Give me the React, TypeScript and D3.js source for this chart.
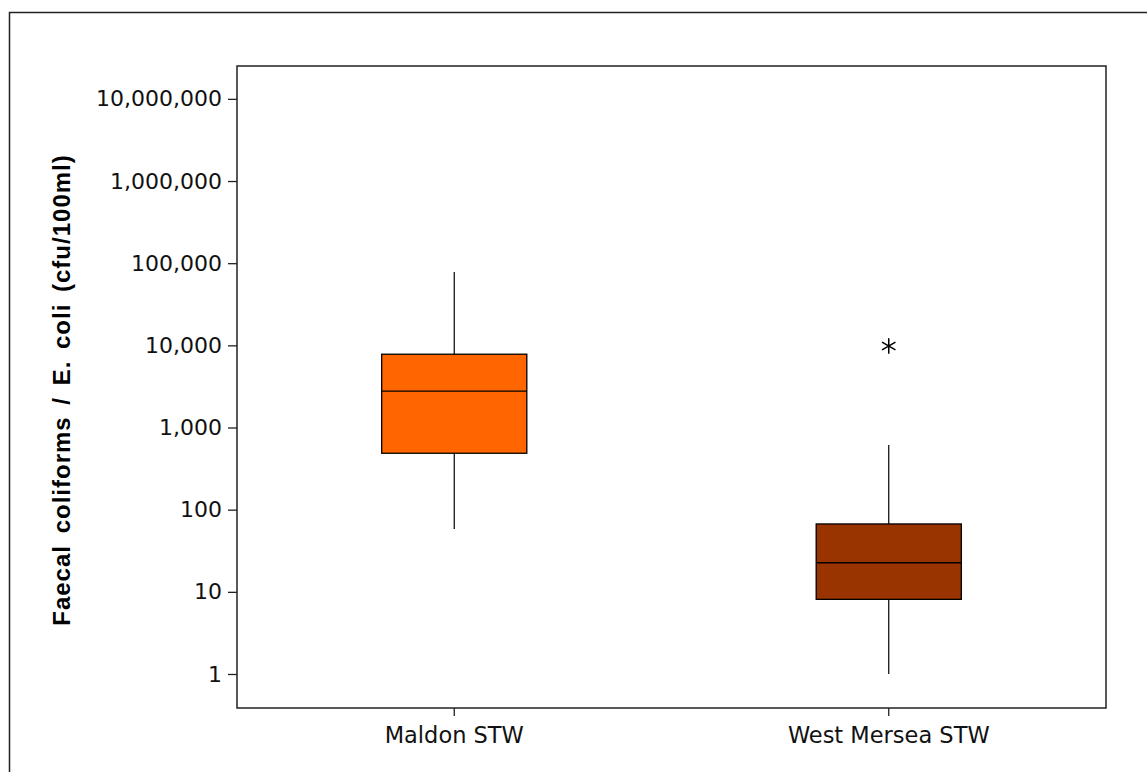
import * as d3 from 'd3';
import { useRef, useEffect } from 'react';

const groups = ['Maldon STW', 'West Mersea STW'];
const whiskerLow = [58, 1];
const q1 = [486, 8.1];
const median = [2770, 22.6];
const q3 = [7800, 67];
const whiskerHigh = [78000, 614];
const outliers = [[], [9800]];
const boxColors = ['#FF6600', '#993300'];
const yTicks = [1, 10, 100, 1000, 10000, 100000, 1000000, 10000000];

const App = () => {
  const svgRef = useRef(null);

  useEffect(() => {
    const svg = d3.select(svgRef.current);
    const width = 1147;
    const height = 772;
    const margin = { top: 66, right: 41, bottom: 64, left: 237 };
    const tickFont = '"DejaVu Sans", Tahoma, sans-serif';

    svg.selectAll('*').remove();

    // outer frame (runs off right and bottom)
    svg.append('rect')
      .attr('x', 9.5).attr('y', 12.5)
      .attr('width', width + 20).attr('height', height + 20)
      .attr('fill', 'none').attr('stroke', '#222').attr('stroke-width', 1.5);

    const x = d3.scaleBand()
      .domain(groups)
      .range([margin.left, width - margin.right])
      .padding(0);

    const y = d3.scaleLog()
      .domain([Math.pow(10, -0.414), Math.pow(10, 7.4)])
      .range([height - margin.bottom, margin.top]);

    const boxW = x.bandwidth() * 0.334;

    const g = svg.append('g');
    groups.forEach((name, i) => {
      const cx = x(name) + x.bandwidth() / 2;
      g.append('line')
        .attr('x1', cx).attr('x2', cx)
        .attr('y1', y(whiskerLow[i])).attr('y2', y(whiskerHigh[i]))
        .attr('stroke', '#000').attr('stroke-width', 1.2);
      g.append('rect')
        .attr('x', cx - boxW / 2).attr('y', y(q3[i]))
        .attr('width', boxW).attr('height', y(q1[i]) - y(q3[i]))
        .attr('fill', boxColors[i]).attr('stroke', '#000').attr('stroke-width', 1.3);
      g.append('line')
        .attr('x1', cx - boxW / 2).attr('x2', cx + boxW / 2)
        .attr('y1', y(median[i])).attr('y2', y(median[i]))
        .attr('stroke', '#000').attr('stroke-width', 1.3);
      outliers[i].forEach(v => {
        g.append('path')
          .attr('transform', `translate(${cx},${y(v)})`)
          .attr('d', d3.symbol(d3.symbolAsterisk, 170)())
          .attr('fill', 'none').attr('stroke', '#000').attr('stroke-width', 1.5);
      });
    });

    // plot border
    svg.append('rect')
      .attr('x', margin.left).attr('y', margin.top)
      .attr('width', width - margin.left - margin.right)
      .attr('height', height - margin.top - margin.bottom)
      .attr('fill', 'none').attr('stroke', '#222').attr('stroke-width', 1.5);

    const yAxisG = svg.append('g')
      .attr('transform', `translate(${margin.left},0)`)
      .call(d3.axisLeft(y).tickValues(yTicks).tickFormat(d3.format(',')).tickSize(9).tickPadding(6));
    yAxisG.select('.domain').remove();
    yAxisG.selectAll('line').attr('stroke', '#222').attr('stroke-width', 1.3);
    yAxisG.selectAll('text')
      .style('font-family', tickFont).style('font-size', '22px').attr('fill', '#111');

    const xAxisG = svg.append('g')
      .attr('transform', `translate(0,${height - margin.bottom})`)
      .call(d3.axisBottom(x).tickSize(8).tickPadding(11));
    xAxisG.select('.domain').remove();
    xAxisG.selectAll('line').attr('stroke', '#222').attr('stroke-width', 1.3);
    xAxisG.selectAll('text')
      .style('font-family', tickFont).style('font-size', '22.5px').attr('fill', '#111');

    svg.append('text')
      .attr('transform', `translate(70,390) rotate(-90)`)
      .attr('text-anchor', 'middle')
      .style('font-family', '"Liberation Sans", Arial, sans-serif')
      .style('font-weight', 'bold')
      .style('font-size', '24px')
      .style('letter-spacing', '1px')
      .style('word-spacing', '4px')
      .text('Faecal coliforms / E. coli (cfu/100ml)');
  }, []);

  return (
    <svg ref={svgRef} width={1147} height={772}
      style={{ position: 'absolute', left: 0, top: 0, background: '#fff' }} />
  );
};

export default App;
